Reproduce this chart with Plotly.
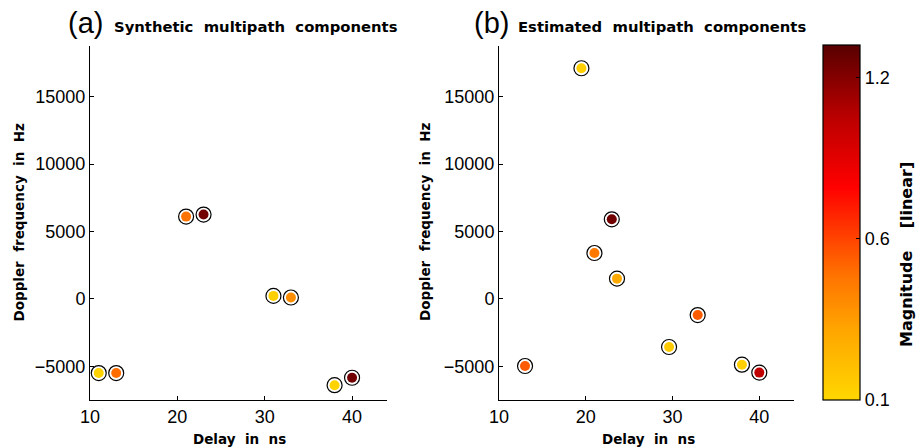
import plotly.graph_objects as go

# ---- data ----
syn_delay = [11, 13, 21, 23, 31, 33, 38, 40]
syn_doppler = [-5500, -5500, 6100, 6250, 220, 100, -6400, -5850]
syn_mag = [0.02, 0.48, 0.46, 1.25, 0.04, 0.36, 0.02, 1.25]

est_delay = [19.5, 23.0, 21.0, 23.6, 32.9, 29.6, 13.0, 38.0, 40.0]
est_doppler = [17100, 5900, 3400, 1500, -1200, -3570, -4980, -4880, -5470]
est_mag = [0.04, 1.25, 0.44, 0.24, 0.53, 0.07, 0.53, 0.04, 1.03]

cbar_tickvals = [0.0, 0.6, 1.2]
cbar_ticktext = ["0.1", "0.6", "1.2"]
x_ticks = [10, 20, 30, 40]
y_ticks = [-5000, 0, 5000, 10000, 15000]
y_ticktext = ["\u22125000", "0", "5000", "10000", "15000"]

W, H = 920, 448
CMIN, CMAX = 0.0, 1.32
colorscale = [
    [0.0, "rgb(255,215,0)"],
    [0.2, "rgb(255,165,0)"],
    [0.35, "rgb(255,115,0)"],
    [0.47, "rgb(255,60,0)"],
    [0.6, "rgb(255,0,0)"],
    [0.8, "rgb(185,0,0)"],
    [1.0, "rgb(88,0,0)"],
]

TICKFONT = dict(family="Liberation Sans, Arial", size=18, color="black")
LABFONT = dict(family="DejaVu Sans", size=13.5, color="black", weight="bold")

fig = go.Figure()

def px_x(p):
    return p / W

def px_y(p):
    return 1 - p / H

panels = [
    ("x", "y", syn_delay, syn_doppler, syn_mag, False),
    ("x2", "y2", est_delay, est_doppler, est_mag, True),
]
for xa, ya, dx, dy, mg, showcb in panels:
    fig.add_trace(go.Scatter(
        x=dx, y=dy, mode="markers", xaxis=xa, yaxis=ya, showlegend=False,
        hoverinfo="skip",
        marker=dict(size=15, color="white", line=dict(color="black", width=1.2)),
    ))
    mk = dict(size=10, color=mg, colorscale=colorscale, cmin=CMIN, cmax=CMAX,
              line=dict(width=0))
    if showcb:
        mk["showscale"] = True
        mk["colorbar"] = dict(
            x=px_x(823), xanchor="left", y=px_y(400), yanchor="bottom",
            len=355 / H, lenmode="fraction", thickness=37, xpad=0, ypad=0,
            outlinecolor="black", outlinewidth=1.2,
            tickvals=cbar_tickvals, ticktext=cbar_ticktext,
            ticks="inside", ticklen=4, tickcolor="black",
            tickfont=TICKFONT,
        )
    fig.add_trace(go.Scatter(
        x=dx, y=dy, mode="markers", xaxis=xa, yaxis=ya, showlegend=False,
        marker=mk,
    ))

axcommon = dict(showgrid=False, zeroline=False, showline=True, linecolor="black",
                linewidth=1, ticks="inside", ticklen=4, tickcolor="black",
                tickfont=TICKFONT, mirror=False, automargin=False)

fig.update_layout(
    template="none",
    width=W, height=H, margin=dict(l=0, r=0, t=0, b=0, pad=0, autoexpand=False),
    plot_bgcolor="white", paper_bgcolor="white",
    xaxis=dict(domain=[px_x(90), px_x(387)], range=[10, 44], tickvals=x_ticks,
               anchor="y", **axcommon),
    yaxis=dict(domain=[px_y(400), px_y(46)], range=[-7500, 18750], tickvals=y_ticks,
               ticktext=y_ticktext, anchor="x", **axcommon),
    xaxis2=dict(domain=[px_x(499), px_x(794)], range=[10, 44], tickvals=x_ticks,
                anchor="y2", **axcommon),
    yaxis2=dict(domain=[px_y(400), px_y(46)], range=[-7500, 18750], tickvals=y_ticks,
                ticktext=y_ticktext, anchor="x2", **axcommon),
)

ann = []
for lx, btxt, tx, bx, xc, ylx in [("(a)", "Synthetic  multipath  components", 66, 112, 239, 18.5),
                                  ("(b)", "Estimated  multipath  components", 472, 516, 648, 425)]:
    ann.append(dict(text=lx, x=px_x(tx), y=px_y(23), xref="paper", yref="paper",
                    xanchor="left", yanchor="middle", showarrow=False,
                    font=dict(family="Liberation Sans, Arial", size=29, color="black")))
    ann.append(dict(text=btxt, x=px_x(bx), y=px_y(27), xref="paper", yref="paper",
                    xanchor="left", yanchor="middle", showarrow=False,
                    font=dict(family="DejaVu Sans", size=14.8, color="black", weight="bold")))
    ann.append(dict(text="Delay  in  ns", x=px_x(xc), y=px_y(439), xref="paper",
                    yref="paper", xanchor="center", yanchor="middle", showarrow=False,
                    font=LABFONT))
    ann.append(dict(text="Doppler  frequency  in  Hz", x=px_x(ylx), y=px_y(222),
                    xref="paper", yref="paper", xanchor="center", yanchor="middle",
                    textangle=-90, showarrow=False, font=LABFONT))
ann.append(dict(text="Magnitude    [linear]", x=px_x(906), y=px_y(255),
                xref="paper", yref="paper", xanchor="center", yanchor="middle",
                textangle=-90, showarrow=False,
                font=dict(family="DejaVu Sans", size=16, color="black", weight="bold")))
fig.update_layout(annotations=ann)

fig.write_html("out.html")
